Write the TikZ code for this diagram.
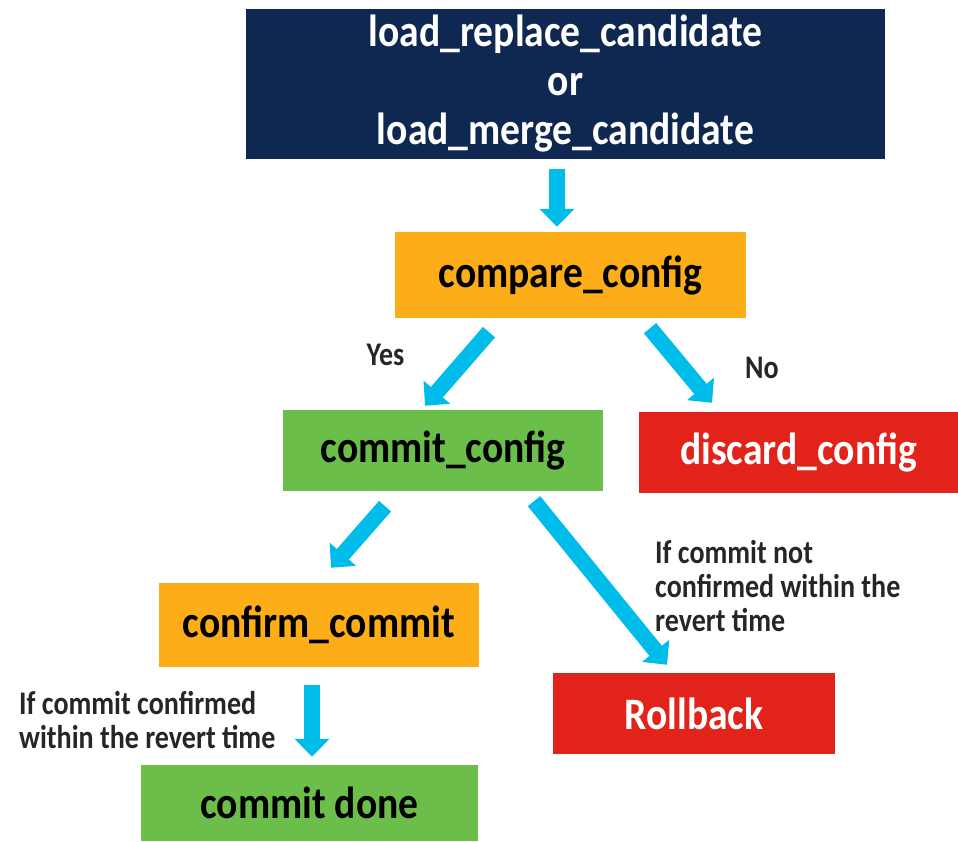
\documentclass[tikz,border=0pt]{standalone}
\usepackage{fontspec}
\setmainfont{Carlito}
\newfontfamily\boxfont{Carlito}[FakeStretch=0.88]
\newfontfamily\notefont{Carlito}[FakeStretch=0.85]
\usetikzlibrary{arrows.meta,calc}

\definecolor{navy}{HTML}{0F2851}
\definecolor{flowor}{HTML}{FCAD17}
\definecolor{flowgr}{HTML}{6CBE4A}
\definecolor{flowrd}{HTML}{E2231A}
\definecolor{flowcy}{HTML}{00BCEB}
\definecolor{notegray}{HTML}{262626}

\tikzset{
  box/.style={rectangle, inner sep=0pt, draw=none, align=center,
    font=\boxfont\bfseries\fontsize{45}{49}\selectfont},
  navybox/.style={box, fill=navy, text=white},
  orangebox/.style={box, fill=flowor, text=black},
  greenbox/.style={box, fill=flowgr, text=black},
  redbox/.style={box, fill=flowrd, text=white},
  note/.style={inner sep=0pt, align=left, text=notegray,
    font=\notefont\bfseries\fontsize{33}{34}\selectfont},
  blockarrow/.style={draw=flowcy, line width=16pt, line cap=butt,
    -{Triangle[width=34pt,length=18pt]}}
}

\begin{document}
\begin{tikzpicture}[x=1pt,y=-1pt]
  \useasboundingbox (0,0) rectangle (958,842);

  % process boxes
  \node[navybox, minimum width=639pt, minimum height=150pt] (load) at (565.5,84)
    {load\_replace\_candidate\\or\\load\_merge\_candidate};
  \node[orangebox, minimum width=351pt, minimum height=86pt] (cmp) at (570.5,275) {compare\_config};
  \node[greenbox, minimum width=320pt, minimum height=81pt] (commit) at (443,450.5) {commit\_config};
  \node[redbox, minimum width=319pt, minimum height=81pt] (discard) at (798.5,452.5) {discard\_config};
  \node[orangebox, minimum width=320pt, minimum height=84pt] (confirm) at (319,625) {confirm\_commit};
  \node[redbox, minimum width=282pt, minimum height=81pt] (rollback) at (694,713.5) {Rollback};
  \node[greenbox, minimum width=337pt, minimum height=76pt] (done) at (309.5,803) {commit done};

  % connectors
  \draw[blockarrow] ($(load.south)+(-8.5,10)$) -- ($(cmp.north)+(-13.5,-5)$);
  \draw[blockarrow] ($(cmp.south)+(-81.5,14)$) -- ($(commit.north)+(-18,-4)$);
  \draw[blockarrow] ($(cmp.south)+(79.5,10)$) -- ($(discard.north)+(-86.5,-9)$);
  \draw[blockarrow] ($(commit.south)+(-58,15)$) -- ($(confirm.north)+(12,-15)$);
  \draw[blockarrow] ($(commit.south)+(91,10)$) -- ($(rollback.north)+(-27,-8)$);
  \draw[blockarrow] ($(confirm.south)+(-7,18)$) -- ($(done.north)+(2.5,-8)$);

  % branch labels
  \node[note, anchor=base] (yes) at (385.5,365) {Yes};
  \node[note, anchor=base] (no) at (762,378) {No};
  \node[note, anchor=north west] (notconf) at (655,540)
    {If commit not\\confirmed within the\\revert time};
  \node[note, anchor=north west] (conf) at (19,691)
    {If commit confirmed\\within the revert time};
\end{tikzpicture}
\end{document}
